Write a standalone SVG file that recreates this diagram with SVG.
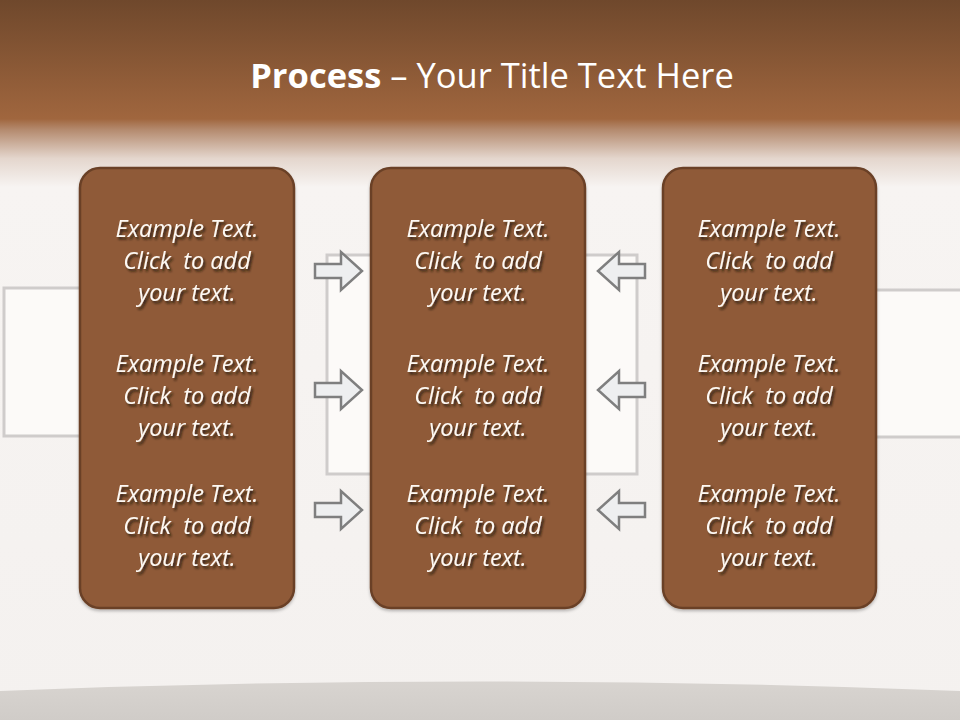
<svg xmlns="http://www.w3.org/2000/svg" width="960" height="720" viewBox="0 0 960 720">
<defs>
<linearGradient id="bg" x1="0" y1="0" x2="0" y2="1">
<stop offset="0" stop-color="#6f482c"/>
<stop offset="0.165" stop-color="#a0663e"/>
<stop offset="0.18" stop-color="#b48a6e"/>
<stop offset="0.22" stop-color="#e4d6cd"/>
<stop offset="0.26" stop-color="#f7f4f2"/>
<stop offset="1" stop-color="#f4f1ef"/>
</linearGradient>
<linearGradient id="floor" x1="0" y1="0" x2="0" y2="1">
<stop offset="0" stop-color="#d8d4d0"/>
<stop offset="1" stop-color="#d0ccc8"/>
</linearGradient>
<filter id="ts" x="-10%" y="-20%" width="130%" height="160%">
<feDropShadow dx="2" dy="2.5" stdDeviation="1.3" flood-color="#24130a" flood-opacity="0.85"/>
</filter>
<filter id="bs" x="-10%" y="-10%" width="120%" height="120%">
<feDropShadow dx="0" dy="2" stdDeviation="1.5" flood-color="#000" flood-opacity="0.25"/>
</filter>
<path id="ra" d="M0,-7 H26 V-19 L47,0 L26,19 V7 H0 Z"/>
</defs>
<style>
.frame{fill:#fcfaf8;stroke:#cfcccb;stroke-width:3}
.box{fill:#8f5a38;stroke:#6a4127;stroke-width:2.5}
.arrow{fill:#eeeff0;stroke:#7f7f7f;stroke-width:2.5;stroke-linejoin:miter}
.t{font-family:"Open Sans","Liberation Sans",sans-serif;font-style:italic;font-size:23.5px;fill:#fdf9f4;text-anchor:middle;filter:url(#ts);white-space:pre}
.title{font-family:"Open Sans","Liberation Sans",sans-serif;font-size:34.5px;fill:#ffffff;text-anchor:middle}
</style>
<rect x="0" y="0" width="960" height="720" fill="url(#bg)"/>
<path d="M0,691 Q480,672 960,691 V720 H0 Z" fill="url(#floor)"/>
<g id="frames">
<rect class="frame" x="4" y="288" width="90" height="148"/>
<rect class="frame" x="866" y="290" width="100" height="147"/>
<rect class="frame" x="327" y="255" width="310" height="219"/>
</g>
<text class="title" x="492" y="88"><tspan font-weight="bold">Process</tspan> – Your Title Text Here</text>
<g id="node-left" filter="url(#bs)">
<rect class="box" x="80" y="168" width="214" height="440" rx="20"/>
</g>
<g id="node-middle" filter="url(#bs)">
<rect class="box" x="371" y="168" width="214" height="440" rx="20"/>
</g>
<g id="node-right" filter="url(#bs)">
<rect class="box" x="663" y="168" width="213" height="440" rx="20"/>
</g>
<g id="texts" xml:space="preserve">
<g>
<text class="t" x="187" y="237">Example Text.</text>
<text class="t" x="187" y="269">Click  to add</text>
<text class="t" x="187" y="301">your text.</text>
<text class="t" x="187" y="372">Example Text.</text>
<text class="t" x="187" y="404">Click  to add</text>
<text class="t" x="187" y="436">your text.</text>
<text class="t" x="187" y="502">Example Text.</text>
<text class="t" x="187" y="534">Click  to add</text>
<text class="t" x="187" y="566">your text.</text>
</g>
<g>
<text class="t" x="478" y="237">Example Text.</text>
<text class="t" x="478" y="269">Click  to add</text>
<text class="t" x="478" y="301">your text.</text>
<text class="t" x="478" y="372">Example Text.</text>
<text class="t" x="478" y="404">Click  to add</text>
<text class="t" x="478" y="436">your text.</text>
<text class="t" x="478" y="502">Example Text.</text>
<text class="t" x="478" y="534">Click  to add</text>
<text class="t" x="478" y="566">your text.</text>
</g>
<g>
<text class="t" x="769" y="237">Example Text.</text>
<text class="t" x="769" y="269">Click  to add</text>
<text class="t" x="769" y="301">your text.</text>
<text class="t" x="769" y="372">Example Text.</text>
<text class="t" x="769" y="404">Click  to add</text>
<text class="t" x="769" y="436">your text.</text>
<text class="t" x="769" y="502">Example Text.</text>
<text class="t" x="769" y="534">Click  to add</text>
<text class="t" x="769" y="566">your text.</text>
</g>
</g>
<g id="connectors">
<use href="#ra" class="arrow" transform="translate(315,271)"/>
<use href="#ra" class="arrow" transform="translate(315,390)"/>
<use href="#ra" class="arrow" transform="translate(315,510)"/>
<use href="#ra" class="arrow" transform="translate(645,271) scale(-1,1)"/>
<use href="#ra" class="arrow" transform="translate(645,390) scale(-1,1)"/>
<use href="#ra" class="arrow" transform="translate(645,510) scale(-1,1)"/>
</g>
</svg>
